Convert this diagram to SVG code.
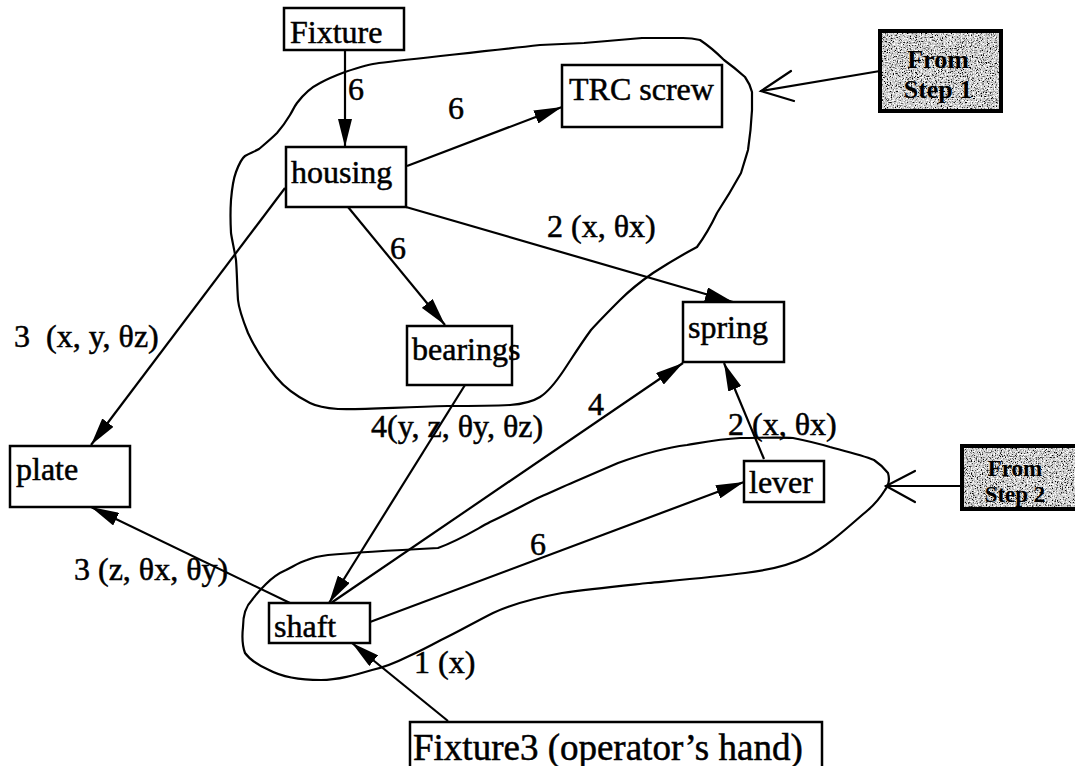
<svg xmlns="http://www.w3.org/2000/svg" width="1075" height="766" viewBox="0 0 1075 766">
  <style>
    .box { fill: #fff; stroke: #000; stroke-width: 2.5; }
    .lbl { font-family: "Liberation Serif", "Times New Roman", serif; font-size: 32px; fill: #000; stroke: #000; stroke-width: 0.5; }
    .big { font-size: 37px; }
    .edge { stroke: #000; stroke-width: 2.2; fill: none; marker-end: url(#tri); }
    .blob { stroke: #000; stroke-width: 2.2; fill: none; stroke-linejoin: round; stroke-linecap: round; }
    .open { stroke: #000; stroke-width: 2.2; fill: none; stroke-linecap: round; stroke-linejoin: miter; }
    .step { font-family: "Liberation Serif", "Times New Roman", serif; font-size: 26px; font-weight: bold; fill: #000; text-anchor: middle; }
    .step-sm { font-size: 23px; }
  </style>
  <defs>
    <marker id="tri" markerUnits="userSpaceOnUse" markerWidth="28" markerHeight="14" refX="28" refY="7" orient="auto">
      <path d="M0,0 L28,7 L0,14 Z" fill="#000"/>
    </marker>
    <!-- speckled print texture for the step tags -->
    <filter id="grain" x="0" y="0" width="100%" height="100%">
      <feTurbulence type="fractalNoise" baseFrequency="0.8" numOctaves="2" seed="7" result="n"/>
      <feColorMatrix in="n" type="matrix" values="0 0 0 0 0  0 0 0 0 0  0 0 0 0 0  0 0 0 5 -2.6" result="specks"/>
      <feComposite in="specks" in2="SourceGraphic" operator="in"/>
    </filter>
    <filter id="light" x="0" y="0" width="100%" height="100%">
      <feTurbulence type="fractalNoise" baseFrequency="0.7" numOctaves="2" seed="21" result="n"/>
      <feColorMatrix in="n" type="matrix" values="0 0 0 0 1  0 0 0 0 1  0 0 0 0 1  0 0 0 5 -2.4" result="specks"/>
      <feComposite in="specks" in2="SourceGraphic" operator="in"/>
    </filter>
  </defs>

  <rect width="1075" height="766" fill="#fff"/>

  <!-- outlines grouping the sub-assemblies -->
  <g id="regions">
    <path class="blob" d="M345,72 C360,67 370,64 379,63 C410,59 470,53 540,45 C565,44 584,43 584,43 L642,38 L683,38 C692,38 700,40 700,40 C712,48 724,60 724,60 C735,68 745,77 745,77 C750,84 752,92 752,92 L752,110 C751,130 748,150 748,150 C745,160 741,173 741,173 C730,193 717,213 717,213 C708,232 697,247 697,247 C680,256 670,262 653,273 C640,282 630,290 620,300 C608,312 600,320 591,330 C580,345 572,358 564,370 C556,382 548,392 540,397 C532,402 524,404 510,405 C490,406 470,406 448,406 C400,407 360,410 338,409 C325,408 316,406 310,403 C296,396 285,388 276,377 C262,360 254,346 248,333 C242,318 239,310 238,300 C237,285 237,272 236,260 C234,248 232,240 231,233 C230,215 231,200 231,200 C232,188 233,180 236,172 C239,164 241,159 245,156 C250,153 254,152 259,149 C266,143 271,139 277,133 C283,126 287,120 290,115 C293,110 294,107 297,103 C303,95 310,88 320,83 C329,78 337,75 345,72 Z"/>
    <path class="blob" d="M243,627 C243,615 246,606 252,600 C257,593 261,589 266,584 C272,578 279,573 286,570 C294,566 300,562 307,560 C314,557 320,556 328,555 C350,553 380,551 438,548 C460,540 475,530 490,522 C508,514 525,504 540,497 C552,492 562,487 574,482 C590,475 604,469 618,463 C640,455 662,448 687,445 C705,442 720,439 740,438 C760,438 780,437 793,438 C808,441 820,444 830,447 C845,451 862,455 874,460 C880,464 884,468 888,473 C890,480 889,485 885,490 C880,498 875,504 868,510 C850,525 830,545 806,557 C790,565 770,570 745,573 C715,577 680,580 648,583 C620,586 590,589 562,593 C535,598 512,604 493,613 C475,622 458,632 441,640 C428,647 418,652 407,657 C395,663 385,667 372,670 C355,675 338,680 321,680 C300,680 282,677 269,670 C258,665 250,660 245,653 C242,645 242,636 243,627 Z"/>
  </g>

  <!-- connectors -->
  <g id="connectors">
    <line class="edge" x1="345" y1="50" x2="345" y2="147"/>
    <line class="edge" x1="407" y1="166" x2="562" y2="107"/>
    <line class="edge" x1="406" y1="207" x2="733" y2="302"/>
    <line class="edge" x1="348" y1="207" x2="445" y2="325"/>
    <line class="edge" x1="285" y1="188" x2="91" y2="445"/>
    <line class="edge" x1="465" y1="385" x2="329" y2="603"/>
    <line class="edge" x1="331" y1="603" x2="683" y2="363"/>
    <line class="edge" x1="370" y1="622" x2="744" y2="482"/>
    <line class="edge" x1="764" y1="459" x2="724" y2="363"/>
    <line class="edge" x1="290" y1="603" x2="91" y2="507"/>
    <line class="edge" x1="448" y1="721" x2="352" y2="643"/>

    <!-- pointers from the step tags -->
    <line class="open" x1="880" y1="71" x2="761" y2="91"/>
    <polyline class="open" points="791,71 761,91 794,101"/>
    <line class="open" x1="962" y1="486" x2="886" y2="486"/>
    <polyline class="open" points="915,471 886,486 915,502"/>

    <!-- connector labels -->
    <text class="lbl" x="348" y="100">6</text>
    <text class="lbl" x="448" y="119">6</text>
    <text class="lbl" x="390" y="259">6</text>
    <text class="lbl" x="547" y="237">2 (x, θx)</text>
    <text class="lbl" x="14" y="347" xml:space="preserve">3  (x, y, θz)</text>
    <text class="lbl" x="371" y="437">4(y, z, θy, θz)</text>
    <text class="lbl" x="588" y="415">4</text>
    <text class="lbl" x="728" y="435">2 (x, θx)</text>
    <text class="lbl" x="530" y="555">6</text>
    <text class="lbl" x="74" y="580">3 (z, θx, θy)</text>
    <text class="lbl" x="414" y="673">1 (x)</text>
  </g>

  <!-- nodes -->
  <g id="fixture">
    <rect class="box" x="284" y="8" width="120" height="42"/>
    <text class="lbl" x="290" y="43">Fixture</text>
  </g>
  <g id="housing">
    <rect class="box" x="286" y="147" width="120" height="60"/>
    <text class="lbl" x="291" y="183">housing</text>
  </g>
  <g id="trc-screw">
    <rect class="box" x="562" y="65" width="160" height="62"/>
    <text class="lbl" x="569" y="100">TRC screw</text>
  </g>
  <g id="bearings">
    <rect class="box" x="407" y="326" width="105" height="59"/>
    <text class="lbl" x="412" y="360">bearings</text>
  </g>
  <g id="spring">
    <rect class="box" x="683" y="302" width="101" height="60"/>
    <text class="lbl" x="688" y="338">spring</text>
  </g>
  <g id="plate">
    <rect class="box" x="10" y="446" width="120" height="61"/>
    <text class="lbl" x="16" y="480">plate</text>
  </g>
  <g id="lever">
    <rect class="box" x="744" y="461" width="80" height="41"/>
    <text class="lbl" x="749" y="493">lever</text>
  </g>
  <g id="shaft">
    <rect class="box" x="269" y="603" width="101" height="40"/>
    <text class="lbl" x="274" y="637">shaft</text>
  </g>
  <g id="fixture3">
    <rect class="box" x="410" y="722" width="412" height="50"/>
    <text class="lbl big" x="413" y="760">Fixture3 (operator’s hand)</text>
  </g>
  <g id="step1">
    <rect x="880" y="31" width="121" height="80" fill="#cdcdcd"/>
    <rect x="880" y="31" width="121" height="80" fill="#000" filter="url(#grain)"/>
    <rect x="880" y="31" width="121" height="80" fill="#fff" filter="url(#light)"/>
    <rect x="880" y="31" width="121" height="80" fill="none" stroke="#000" stroke-width="4"/>
    <text class="step" x="938" y="68">From</text>
    <text class="step" x="938" y="98">Step 1</text>
  </g>
  <g id="step2">
    <rect x="962" y="446" width="118" height="63" fill="#cdcdcd"/>
    <rect x="962" y="446" width="118" height="63" fill="#000" filter="url(#grain)"/>
    <rect x="962" y="446" width="118" height="63" fill="#fff" filter="url(#light)"/>
    <rect x="962" y="446" width="118" height="63" fill="none" stroke="#000" stroke-width="4"/>
    <text class="step step-sm" x="1015" y="476">From</text>
    <text class="step step-sm" x="1015" y="502">Step 2</text>
  </g>
</svg>
